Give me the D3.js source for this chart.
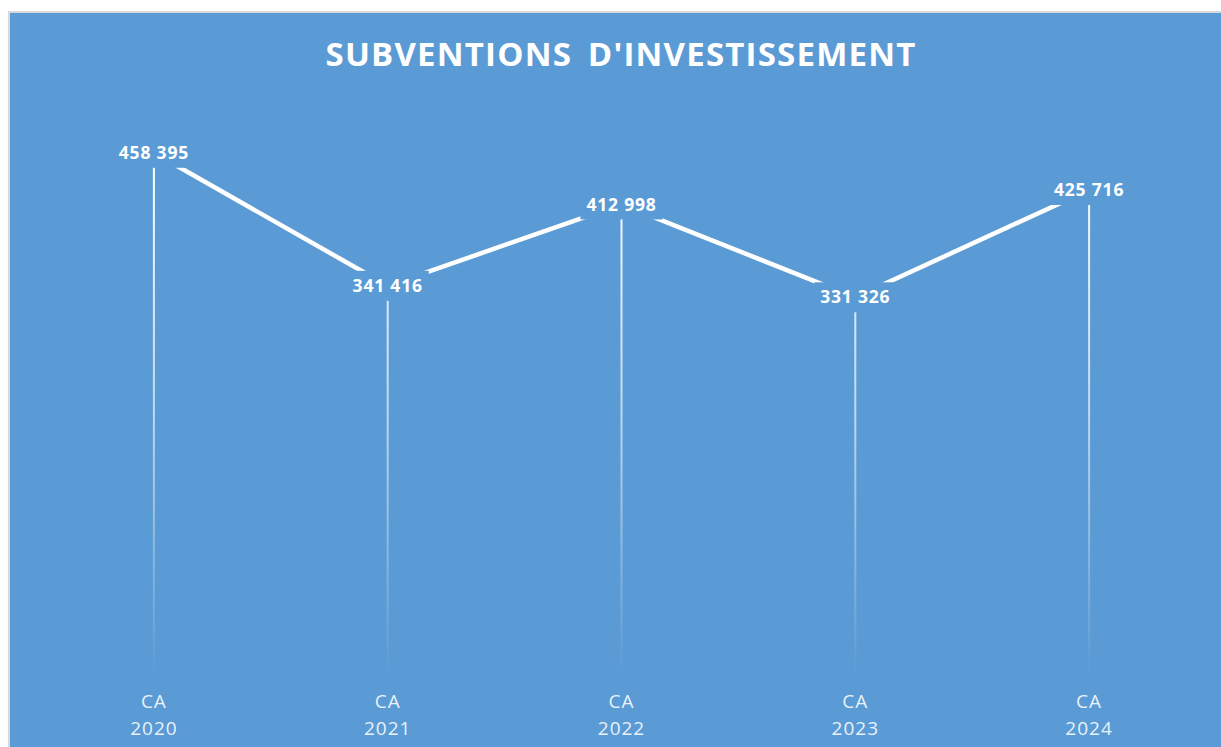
<!DOCTYPE html>
<html>
<head>
<meta charset="utf-8">
<script src="https://cdn.jsdelivr.net/npm/d3@7/dist/d3.min.js"></script>
<style>
  html, body { margin: 0; padding: 0; background: #fff; }
  svg { display: block; }
</style>
</head>
<body>
<svg width="1221" height="747"></svg>
<script>
// chart data
var categories = ["CA 2020", "CA 2021", "CA 2022", "CA 2023", "CA 2024"];
var values = [458395, 341416, 412998, 331326, 425716];
var yDomain = [0, 500000];
var chartTitle = "SUBVENTIONS D'INVESTISSEMENT";

var bg = "#5b9bd5";
var width = 1221, height = 747;

var svg = d3.select("svg");

// chart frame (grey border top and left, blue area)
svg.append("rect")
	.attr("x", 8).attr("y", 11)
	.attr("width", width).attr("height", height)
	.attr("fill", "#d9d9d9");
svg.append("rect")
	.attr("x", 10).attr("y", 13)
	.attr("width", width).attr("height", height)
	.attr("fill", bg);

// title
svg.append("text")
	.attr("x", 621)
	.attr("y", 66)
	.attr("text-anchor", "middle")
	.attr("fill", "#fff")
	.attr("font-family", "'Open Sans', sans-serif")
	.attr("font-weight", "bold")
	.attr("font-size", 33)
	.attr("letter-spacing", 1.2)
	.attr("word-spacing", 6)
	.text(chartTitle);

// scales
var xScale = d3.scalePoint()
	.domain(categories)
	.range([37, 1206])
	.padding(0.5);

var yScale = d3.scaleLinear()
	.domain(yDomain)
	.range([674, 105.5]);

var data = categories.map(function(c, i) {
	return { cat: c, value: values[i] };
});

// gradient for the drop lines (fade out to the bottom)
var defs = svg.append("defs");
var grad = defs.append("linearGradient")
	.attr("id", "dropFade")
	.attr("gradientUnits", "userSpaceOnUse")
	.attr("x1", 0).attr("x2", 0)
	.attr("y1", 160).attr("y2", yScale(0));
grad.append("stop").attr("offset", 0).attr("stop-color", "#fff").attr("stop-opacity", 1);
grad.append("stop").attr("offset", 0.5).attr("stop-color", "#fff").attr("stop-opacity", 0.6);
grad.append("stop").attr("offset", 1).attr("stop-color", "#fff").attr("stop-opacity", 0);

// drop lines
svg.append("g")
	.selectAll("line")
	.data(data)
	.enter().append("line")
	.attr("x1", function(d) { return xScale(d.cat); })
	.attr("x2", function(d) { return xScale(d.cat); })
	.attr("y1", function(d) { return yScale(d.value); })
	.attr("y2", yScale(0))
	.attr("stroke", "url(#dropFade)")
	.attr("stroke-width", 2);

// the line
var line = d3.line()
	.x(function(d) { return xScale(d.cat); })
	.y(function(d) { return yScale(d.value); });

svg.append("path")
	.datum(data)
	.attr("d", line)
	.attr("fill", "none")
	.attr("stroke", "#fff")
	.attr("stroke-width", 4.5);

// data labels with blue box behind them
var fmt = function(v) {
	return d3.format(",")(v).replace(/,/g, " ");
};

var labels = svg.append("g")
	.selectAll("g")
	.data(data)
	.enter().append("g")
	.attr("transform", function(d) {
		return "translate(" + xScale(d.cat) + "," + yScale(d.value) + ")";
	});

labels.append("text")
	.attr("text-anchor", "middle")
	.attr("dy", "0.35em")
	.attr("fill", "#fff")
	.attr("font-family", "'Open Sans', sans-serif")
	.attr("font-weight", "bold")
	.attr("font-size", 17.5)
	.attr("letter-spacing", 0.8)
	.text(function(d) { return fmt(d.value); });

labels.each(function() {
	var g = d3.select(this);
	var bb = g.select("text").node().getBBox();
	g.insert("rect", "text")
		.attr("x", bb.x - 6)
		.attr("y", -15)
		.attr("width", bb.width + 12)
		.attr("height", 30)
		.attr("fill", bg);
});

// category labels
var catLabels = svg.append("g")
	.selectAll("text")
	.data(categories)
	.enter().append("text")
	.attr("text-anchor", "middle")
	.attr("fill", "rgba(255,255,255,0.88)")
	.attr("font-family", "'Open Sans', sans-serif")
	.attr("font-size", 19)
	.attr("letter-spacing", 1);

catLabels.each(function(c) {
	var parts = c.split(" ");
	var t = d3.select(this);
	parts.forEach(function(p, i) {
		t.append("tspan")
			.attr("x", xScale(c))
			.attr("y", 708 + i * 27)
			.text(p);
	});
});
</script>
</body>
</html>
